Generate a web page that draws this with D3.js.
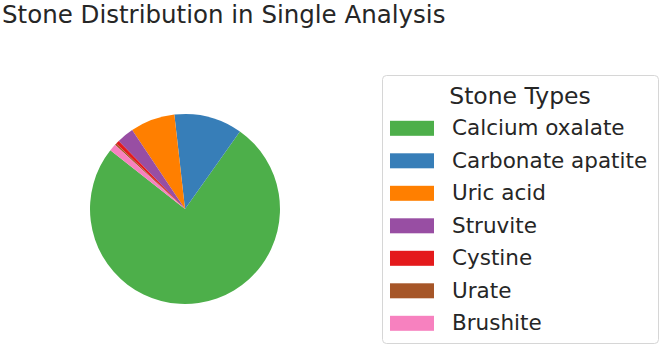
<!DOCTYPE html>
<html>
<head>
<meta charset="utf-8">
<script src="https://cdn.jsdelivr.net/npm/d3@7"></script>
<style>
  body { margin: 0; background: #fff; }
  svg { display: block; font-family: "DejaVu Sans", sans-serif; }
</style>
</head>
<body>
<div id="chart"></div>
<script>
// stone types, in wedge / legend order
var stoneTypes = ['Calcium oxalate', 'Carbonate apatite', 'Uric acid', 'Struvite', 'Cystine', 'Urate', 'Brushite'];
// share of each type (percent)
var stoneShares = [75.8, 11.6, 7.6, 2.9, 0.6, 0.3, 1.2];
var stoneColors = ['#4daf4a', '#377eb8', '#ff7f00', '#984ea3', '#e41a1c', '#a65628', '#f781bf'];

var width = 662, height = 347;
var textColor = '#262626';

var svg = d3.select('#chart').append('svg')
    .attr('width', width)
    .attr('height', height);

// title
svg.append('text')
    .attr('x', 2)
    .attr('y', 22.8)
    .attr('fill', textColor)
    .style('font-size', '24.5px')
    .text('Stone Distribution in Single Analysis');

var data = stoneTypes.map(function (t, i) {
    return { type: t, value: stoneShares[i], color: stoneColors[i] };
});

// pie, first wedge starts at ~142 deg (math angle) and goes counter-clockwise
var start = (90 - 141.8) * Math.PI / 180;
var pie = d3.pie()
    .sort(null)
    .value(function (d) { return d.value; })
    .startAngle(start)
    .endAngle(start - 2 * Math.PI);

var radius = 95;
var arc = d3.arc().innerRadius(0).outerRadius(radius);

var g = svg.append('g')
    .attr('transform', 'translate(185,209)');

g.selectAll('path')
    .data(pie(data))
    .enter().append('path')
    .attr('d', arc)
    .attr('fill', function (d) { return d.data.color; });

// legend
var legend = svg.append('g')
    .attr('transform', 'translate(382,75)');

legend.append('rect')
    .attr('x', 0.5)
    .attr('y', 0.5)
    .attr('width', 276)
    .attr('height', 268)
    .attr('rx', 4)
    .attr('fill', '#fff')
    .attr('stroke', '#d6d6d6');

legend.append('text')
    .attr('x', 138)
    .attr('y', 29)
    .attr('text-anchor', 'middle')
    .attr('fill', textColor)
    .style('font-size', '23.5px')
    .text('Stone Types');

var rowY = d3.scaleLinear().domain([0, 1]).range([53.3, 53.3 + 32.5]);

var items = legend.selectAll('.item')
    .data(data)
    .enter().append('g')
    .attr('class', 'item')
    .attr('transform', function (d, i) { return 'translate(0,' + rowY(i) + ')'; });

items.append('rect')
    .attr('x', 8)
    .attr('y', -7.5)
    .attr('width', 44)
    .attr('height', 15)
    .attr('fill', function (d) { return d.color; });

items.append('text')
    .attr('x', 70)
    .attr('y', 7)
    .attr('fill', textColor)
    .style('font-size', '21.5px')
    .text(function (d) { return d.type; });
</script>
</body>
</html>
